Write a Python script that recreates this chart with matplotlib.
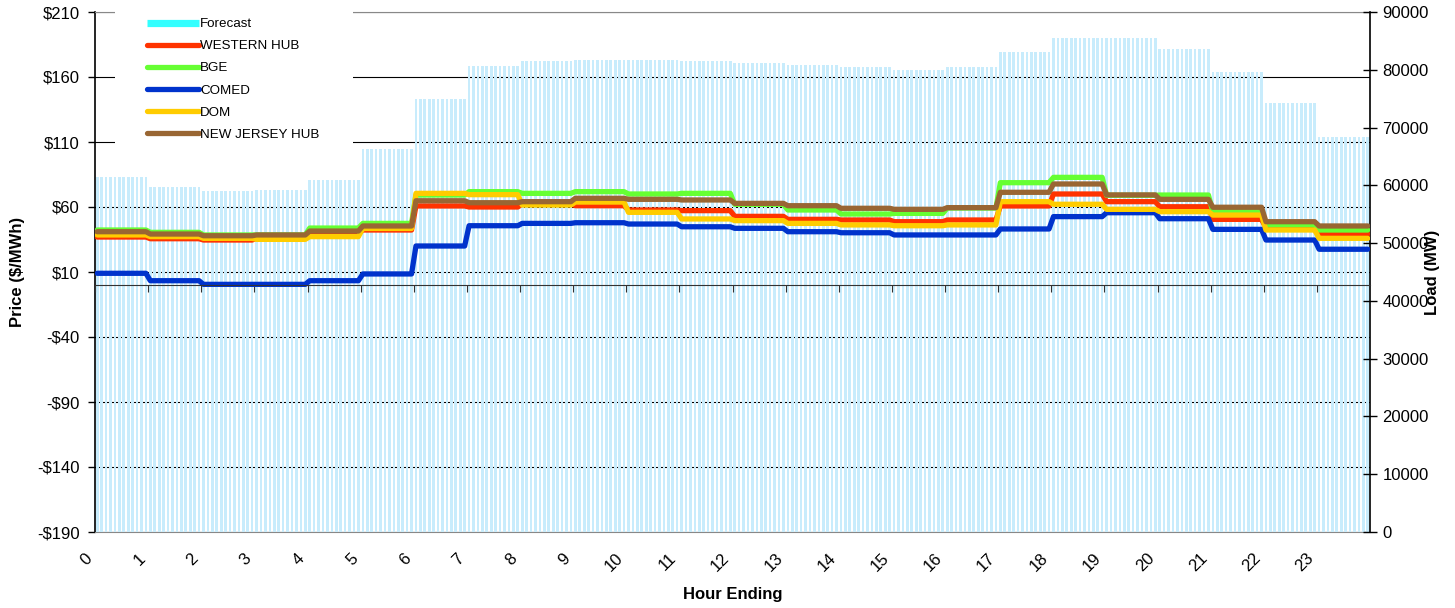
import numpy as np
import matplotlib
matplotlib.use('Agg')
import matplotlib.pyplot as plt
from matplotlib.lines import Line2D
from matplotlib.patches import Rectangle

plt.rcParams['font.family'] = ['Liberation Sans', 'DejaVu Sans']

# hourly values; every hour is shown as twelve 5-minute intervals
hours = list(range(24))
forecast_load = [61400, 59700, 59000, 59200, 60900, 66300, 74900, 80600,
                 81500, 81700, 81700, 81500, 81200, 80800, 80500, 80000,
                 80500, 83100, 85500, 85500, 83600, 79600, 74200, 68300]
western_hub = [36.9, 35.6, 34.6, 36.0, 39.7, 42.3, 60.8, 60.0, 62.5, 61.0, 57.7, 57.2,
               52.8, 50.5, 50.0, 48.7, 50.0, 60.8, 70.0, 64.1, 60.2, 50.5, 44.1, 39.2]
bge = [42.3, 40.5, 38.5, 38.5, 43.8, 47.4, 69.2, 71.8, 70.5, 71.8, 70.0, 70.5,
       62.0, 57.7, 54.6, 55.1, 59.2, 78.7, 82.8, 69.0, 69.2, 56.4, 46.2, 42.3]
comed = [9.0, 3.3, 0.5, 0.5, 3.3, 8.5, 30.0, 45.6, 47.4, 47.9, 46.9, 44.8,
         43.6, 41.0, 40.2, 38.5, 38.5, 43.1, 52.6, 55.6, 51.0, 42.8, 34.6, 27.5]
dom = [38.5, 37.2, 35.9, 35.1, 37.2, 43.5, 70.5, 69.5, 61.5, 63.8, 55.9, 50.8,
       49.5, 47.4, 46.2, 45.6, 46.2, 64.1, 62.1, 58.2, 56.4, 53.8, 42.3, 35.9]
nj_hub = [41.0, 39.2, 37.9, 38.5, 41.5, 45.4, 64.8, 63.3, 64.1, 66.7, 65.9, 65.4,
          62.8, 61.0, 59.0, 58.2, 59.5, 71.3, 77.7, 69.3, 65.9, 59.8, 48.7, 45.4]

series = [('WESTERN HUB', western_hub, '#ff3300'),
          ('BGE', bge, '#66ff33'),
          ('COMED', comed, '#0033cc'),
          ('DOM', dom, '#ffcc00'),
          ('NEW JERSEY HUB', nj_hub, '#996633')]

price_ticks = list(range(-190, 211, 50))
load_ticks = list(range(0, 90001, 10000))
steps = 12
x = (np.arange(len(hours) * steps) + 0.5) / steps

fig = plt.figure(figsize=(14.55, 6.08), dpi=100)
rect = [95 / 1455, 1 - 532 / 608, 1275 / 1455, 520 / 608]
ax = fig.add_axes(rect)        # price scale + gridlines
ax_load = fig.add_axes(rect)   # forecast bars, right axis
ax_top = fig.add_axes(rect)    # price lines, zero axis, legend

# base axes
ax.set_xlim(0, 24)
ax.set_ylim(-190, 210)
ax.set_yticks(price_ticks)
ax.set_yticklabels([('-$%d' % -v) if v < 0 else ('$%d' % v) for v in price_ticks])
ax.set_xticks(hours)
ax.set_xticklabels([str(h) for h in hours], rotation=45, ha='right', va='top')
ax.tick_params(axis='x', length=0, pad=13.5, labelsize=12)
ax.tick_params(axis='y', direction='out', length=5, width=1, pad=6, labelsize=12)
ax.grid(axis='y', color='black', lw=0.8)
ax.set_axisbelow(True)
ax.spines['top'].set_color('#888888')
ax.spines['bottom'].set_color('#888888')
ax.spines['right'].set_visible(False)
ax.spines['left'].set_linewidth(1.2)
ax.set_ylabel('Price ($/MWh)', fontweight='bold', fontsize=12)
ax.yaxis.label.set_va('center')
ax.yaxis.set_label_coords(-0.0604, 0.5)
ax.set_xlabel('Hour Ending', fontweight='bold', fontsize=12)
ax.xaxis.label.set_va('center')
ax.xaxis.set_label_coords(0.5, -0.121)

# forecast load bars
ax_load.patch.set_visible(False)
ax_load.bar(x, np.repeat(forecast_load, steps), width=0.6 / steps,
            color='#c8ecfc', lw=0)
ax_load.set_xlim(0, 24)
ax_load.set_ylim(0, 90000)
ax_load.set_yticks(load_ticks)
ax_load.yaxis.tick_right()
ax_load.yaxis.set_label_position('right')
ax_load.tick_params(axis='y', direction='inout', length=10, width=1, pad=4, labelsize=12)
ax_load.xaxis.set_visible(False)
for s in ['left', 'top', 'bottom']:
    ax_load.spines[s].set_visible(False)
ax_load.spines['right'].set_linewidth(1.2)
ax_load.set_ylabel('Load (MW)', fontweight='bold', fontsize=12, rotation=90)
ax_load.yaxis.label.set_va('center')
ax_load.yaxis.set_label_coords(1.0494, 0.5)

# price lines
ax_top.patch.set_visible(False)
handles = [Line2D([], [], color='#33ffff', lw=5.2, solid_capstyle='butt')]
labels = ['Forecast']
for name, vals, col in series:
    ln, = ax_top.plot(x, np.repeat(vals, steps), color=col, lw=3.8,
                      solid_capstyle='round', solid_joinstyle='round')
    handles.append(ln)
    labels.append(name)
ax_top.set_xlim(0, 24)
ax_top.set_ylim(-190, 210)
for s in ['left', 'top', 'right']:
    ax_top.spines[s].set_visible(False)
ax_top.spines['bottom'].set_position(('data', 0))
ax_top.spines['bottom'].set_color('#333333')
ax_top.set_xticks(hours)
ax_top.tick_params(axis='x', direction='out', length=5, color='#333333', labelbottom=False)
ax_top.yaxis.set_visible(False)

ax_top.add_patch(Rectangle((20 / 1275, 382 / 520), 238 / 1275, 140 / 520,
                           transform=ax_top.transAxes, facecolor='white',
                           edgecolor='none', clip_on=False, zorder=4))
leg = ax_top.legend(handles, labels, loc='upper left',
                    bbox_to_anchor=(52 / 1275, 1 - 6 / 520), frameon=False,
                    fontsize=9.6, borderpad=0, borderaxespad=0, handlelength=3.9,
                    handletextpad=0.1, labelspacing=0.73)
leg.set_zorder(5)

fig.savefig('out.png', dpi=100)
